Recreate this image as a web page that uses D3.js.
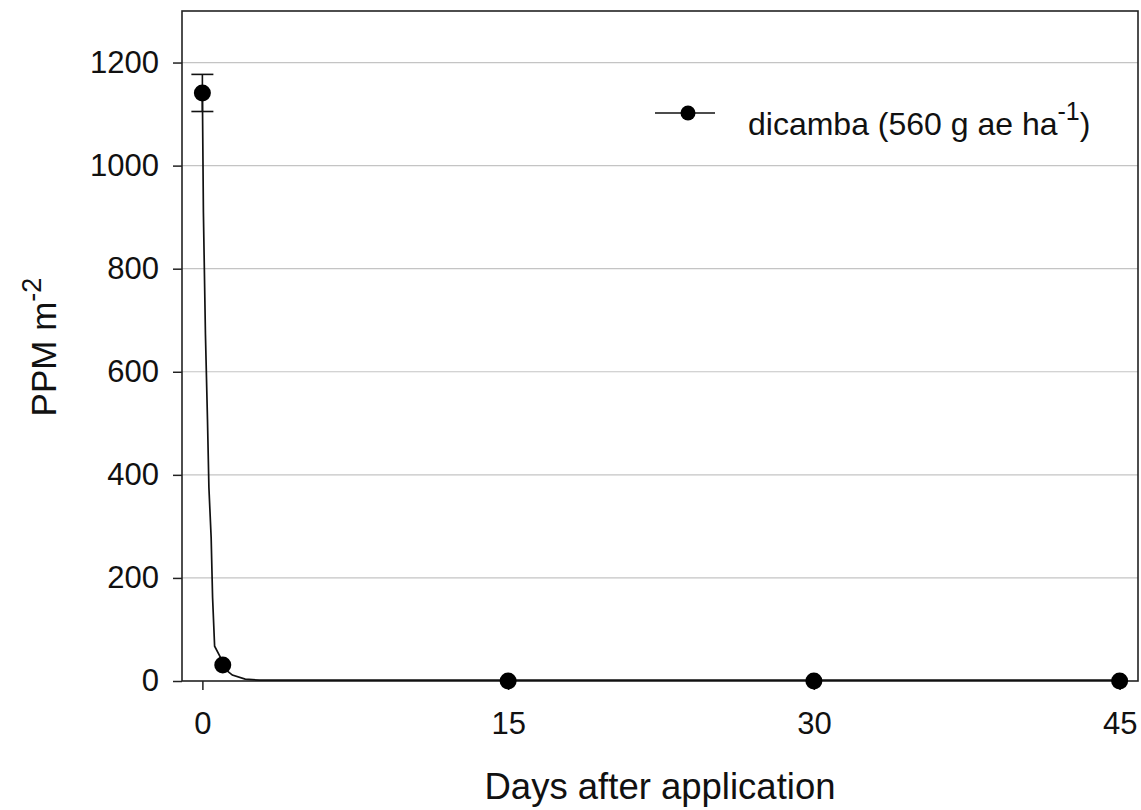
<!DOCTYPE html>
<html>
<head>
<meta charset="utf-8">
<script src="https://cdn.jsdelivr.net/npm/d3@7"></script>
<style>
  body { margin: 0; background: #fff; }
  svg { display: block; font-family: "Liberation Sans", Arial, sans-serif; }
</style>
</head>
<body>
<div id="vis"></div>
<script>
// measured points (mean and error)
const days = [0, 1, 15, 30, 45];
const ppm = [1141, 31, 0, 0, 0];
const err = [36, 0, 0, 0, 0];

// fitted decay curve
const curveDays = [0, 0.05, 0.15, 0.25, 0.32, 0.43, 0.5, 0.6, 0.88, 1.13, 1.47, 2.1, 2.8, 45];
const curvePpm = [1141, 908, 671, 506, 374, 277, 161, 66, 45, 21, 10, 2, 0, 0];

const xTicks = [0, 15, 30, 45];
const yTicks = [0, 200, 400, 600, 800, 1000, 1200];
const seriesName = 'dicamba (560 g ae ha';

const width = 1141, height = 810;
const margin = { top: 11, left: 182, right: 3, bottom: 129 };

const svg = d3.select('#vis')
  .append('svg')
    .attr('width', width)
    .attr('height', height);

const x = d3.scaleLinear()
  .domain([-1, 45.9])
  .range([margin.left, width - margin.right]);
const y = d3.scaleLinear()
  .domain([0, 1300])
  .range([height - margin.bottom, margin.top]);

// grid
svg.append('g')
  .selectAll('line')
  .data(yTicks.filter(d => d > 0))
  .join('line')
    .attr('x1', x.range()[0])
    .attr('x2', x.range()[1])
    .attr('y1', d => y(d))
    .attr('y2', d => y(d))
    .attr('stroke', '#c4c4c4')
    .attr('stroke-width', 1.2);

// axes
const yAxis = svg.append('g')
  .attr('transform', 'translate(' + margin.left + ',0)')
  .call(d3.axisLeft(y).tickValues(yTicks).tickFormat(d3.format('d')).tickSize(9).tickPadding(14));
const xAxis = svg.append('g')
  .attr('transform', 'translate(0,' + (height - margin.bottom) + ')')
  .call(d3.axisBottom(x).tickValues(xTicks).tickFormat(d3.format('d')).tickSize(9).tickPadding(22));

[xAxis, yAxis].forEach(a => {
  a.select('.domain').remove();
  a.selectAll('.tick line').attr('stroke', '#222').attr('stroke-width', 1.5);
  a.selectAll('.tick text')
    .attr('fill', '#111')
    .style('font-size', '31px')
    .style('font-family', '"Liberation Sans", Arial, sans-serif');
});

// frame
svg.append('rect')
  .attr('x', x.range()[0])
  .attr('y', y.range()[1])
  .attr('width', x.range()[1] - x.range()[0])
  .attr('height', y.range()[0] - y.range()[1])
  .attr('fill', 'none')
  .attr('stroke', '#222')
  .attr('stroke-width', 1.6);

// curve
const curve = curveDays.map((d, i) => [d, curvePpm[i]]);
svg.append('path')
  .datum(curve)
  .attr('fill', 'none')
  .attr('stroke', '#111')
  .attr('stroke-width', 1.7)
  .attr('transform', 'translate(0,-0.8)')
  .attr('d', d3.line().x(d => x(d[0])).y(d => y(d[1])));

// error bars
const pts = days.map((d, i) => ({ d: d, v: ppm[i], e: err[i] }));
const eb = svg.append('g').attr('stroke', '#111').attr('stroke-width', 1.6);
pts.filter(p => p.e > 0).forEach(p => {
  eb.append('line')
    .attr('x1', x(p.d)).attr('x2', x(p.d))
    .attr('y1', y(p.v + p.e)).attr('y2', y(p.v - p.e));
  [p.v + p.e, p.v - p.e].forEach(v => {
    eb.append('line')
      .attr('x1', x(p.d) - 11).attr('x2', x(p.d) + 11)
      .attr('y1', y(v)).attr('y2', y(v));
  });
});

// points
svg.append('g')
  .selectAll('circle')
  .data(pts)
  .join('circle')
    .attr('cx', p => x(p.d))
    .attr('cy', p => y(p.v))
    .attr('r', 8.5)
    .attr('fill', '#000');

// legend
const lg = svg.append('g').attr('transform', 'translate(655,113)');
lg.append('line').attr('x1', 0).attr('x2', 60).attr('y1', 0).attr('y2', 0)
  .attr('stroke', '#111').attr('stroke-width', 1.6);
lg.append('circle').attr('cx', 33).attr('cy', 0).attr('r', 7.5).attr('fill', '#000');
const lt = lg.append('text')
  .attr('x', 93).attr('y', 22)
  .attr('fill', '#111')
  .style('font-size', '32px');
lt.append('tspan').text(seriesName);
lt.append('tspan').attr('dy', -15).style('font-size', '25px').text('-1');
lt.append('tspan').attr('dy', 15).text(')');

// axis titles
svg.append('text')
  .attr('x', 660).attr('y', 799)
  .attr('text-anchor', 'middle')
  .attr('fill', '#111')
  .style('font-size', '36.5px')
  .text('Days after application');

const yt = svg.append('text')
  .attr('transform', 'translate(56,' + 347 + ') rotate(-90)')
  .attr('text-anchor', 'middle')
  .attr('fill', '#111')
  .style('font-size', '35px');
yt.append('tspan').text('PPM m');
yt.append('tspan').attr('dy', -15).style('font-size', '27px').text('-2');
</script>
</body>
</html>
